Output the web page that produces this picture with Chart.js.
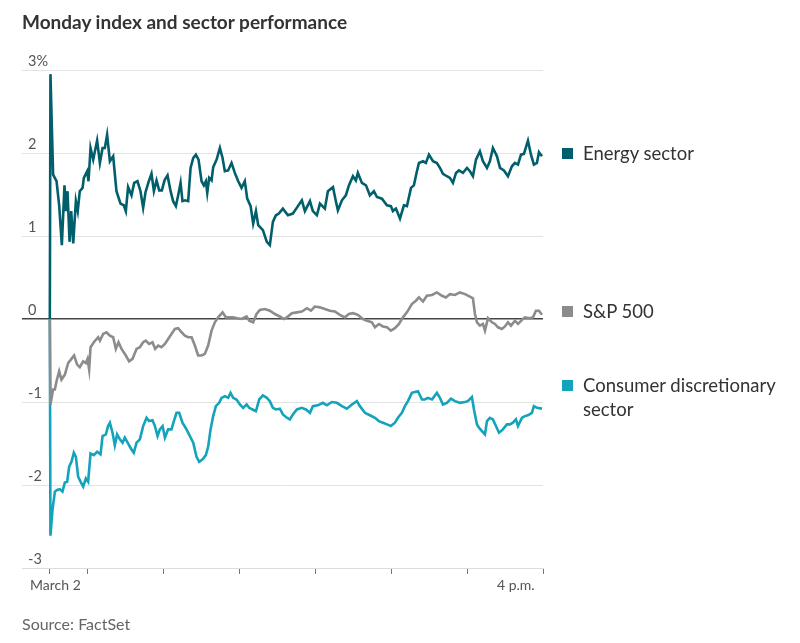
<!DOCTYPE html>
<html>
<head>
<meta charset="utf-8">
<script src="https://cdn.jsdelivr.net/npm/chart.js@4/dist/chart.umd.min.js"></script>
<style>
  html, body { margin: 0; padding: 0; background: #fff; }
  body { width: 800px; height: 643px; position: relative; overflow: hidden; font-family: Lato, "Noto Sans", sans-serif; }
  #wrap { position: absolute; left: 0; top: 0; width: 800px; height: 643px; }
  .title { position: absolute; left: 22px; top: 10px; font-size: 19px; font-weight: bold; color: #333; }
  .source { position: absolute; left: 22px; top: 614px; font-size: 16px; color: #666; }
  .xlab { position: absolute; top: 576px; font-size: 14px; color: #555; }
  .leg { position: absolute; left: 562px; font-size: 18.5px; color: #333; line-height: 24px; }
  .leg .sq { position: absolute; left: 0; top: 7px; width: 11px; height: 11px; }
  .leg .tx { margin-left: 21px; display: block; }
</style>
</head>
<body>
<div id="wrap"><canvas id="chart" width="800" height="643"></canvas></div>
<div class="title">Monday index and sector performance</div>
<div class="xlab" style="left:30px">March 2</div>
<div class="xlab" style="left:497px">4 p.m.</div>
<div class="leg" style="top:141px"><span class="sq" style="background:#005f6b"></span><span class="tx">Energy sector</span></div>
<div class="leg" style="top:299px"><span class="sq" style="background:#8c8c8c"></span><span class="tx">S&amp;P 500</span></div>
<div class="leg" style="top:373px"><span class="sq" style="background:#13a3bb"></span><span class="tx">Consumer discretionary<br>sector</span></div>
<div class="source">Source: FactSet</div>

<script>
// minutes after the 9:30 open, percent change
const energyMin = [0, 0.5, 2.6, 5.3, 7.4, 9.5, 11.6, 12.7, 14, 15.6, 16.9, 18.5, 20.6, 22.1, 23.7, 25.9, 26.9, 29.5, 30.6, 32.2,
  34.3, 37.4, 39.6, 41.7, 43.5, 45.3, 47.5, 50.1, 52.7, 55.9, 58.5, 60.1, 61.9, 64.6, 66.7, 69.3, 71.7, 73.8, 75.7, 78.3,
  80.4, 82.3, 84.4, 86.5, 88.6, 90.7, 93.1, 95.5, 97.5, 99.7, 101.5, 103.4, 104.9, 107, 109.4, 111.3, 113.4, 115.5, 117.6, 120,
  121.8, 123.4, 124.5, 126, 127.9, 129.2, 131.9, 134.5, 136.6, 138.4, 141, 143.7, 146.3, 149, 151.6, 154.2, 156.1, 158.8, 160.8, 163,
  164.8, 166.1, 168.5, 171.6, 174, 176.4, 178.8, 181.1, 184.3, 188.3, 192.2, 196.2, 199.3, 201.7, 205.7, 208, 211.2, 213.6, 217.5, 219.9,
  223.9, 226.2, 227.8, 231, 234.1, 236.5, 239.7, 242, 243.6, 246.8, 250, 253.1, 256.3, 258.7, 262.6, 266.6, 269.7, 271.3, 273.7, 276.9,
  280, 282.4, 285.6, 287.9, 290.3, 291.9, 295.1, 297.4, 299.8, 303, 306.1, 308.5, 310.9, 314, 316.4, 318.8, 321.2, 323.5, 326.7, 329.9,
  332.2, 334.6, 337, 340.1, 342.5, 345.7, 348, 350.4, 353.6, 356, 359.1, 362.3, 365.4, 367.8, 370.2, 372.6, 374.9, 378.1, 380.5, 382.8,
  385.2, 386.8, 389.2];
const energyPct = [0, 2.95, 1.74, 1.66, 1.37, 0.89, 1.61, 1.30, 1.54, 0.93, 1.30, 0.91, 1.42, 1.30, 1.54, 1.58, 1.70, 1.78, 1.66, 2.06,
  1.92, 2.15, 1.88, 2.06, 2.06, 2.22, 1.90, 1.96, 1.54, 1.39, 1.37, 1.30, 1.59, 1.49, 1.64, 1.66, 1.54, 1.34, 1.53, 1.66,
  1.75, 1.54, 1.67, 1.55, 1.55, 1.67, 1.73, 1.54, 1.42, 1.36, 1.49, 1.64, 1.42, 1.43, 1.42, 1.82, 1.94, 1.98, 1.92, 1.66,
  1.61, 1.66, 1.52, 1.70, 1.67, 1.83, 1.92, 2.06, 1.94, 1.78, 1.79, 1.88, 1.76, 1.66, 1.58, 1.66, 1.45, 1.36, 1.15, 1.30,
  1.13, 1.11, 1.07, 0.93, 0.89, 1.17, 1.25, 1.27, 1.33, 1.25, 1.27, 1.36, 1.43, 1.30, 1.42, 1.30, 1.25, 1.39, 1.33, 1.54,
  1.59, 1.42, 1.31, 1.43, 1.49, 1.61, 1.72, 1.67, 1.76, 1.64, 1.61, 1.49, 1.54, 1.47, 1.45, 1.37, 1.36, 1.30, 1.33, 1.21,
  1.37, 1.36, 1.58, 1.61, 1.78, 1.88, 1.90, 1.88, 1.98, 1.90, 1.88, 1.82, 1.75, 1.72, 1.70, 1.64, 1.76, 1.79, 1.76, 1.82,
  1.78, 1.72, 1.92, 2.02, 1.90, 1.82, 1.90, 2.06, 1.96, 1.82, 1.79, 1.72, 1.84, 1.88, 1.86, 1.98, 1.99, 2.15, 1.98, 1.86,
  1.88, 2.01, 1.96];

const spxMin = [0, 0.5, 2.6, 4, 5.3, 7.4, 9.2, 11.9, 14.5, 17.1, 19.2, 21.6, 23.7, 26.4, 28.5, 29.8, 31.1, 32.2, 34.8, 38.2,
  39.6, 42.2, 44.8, 47.5, 50.1, 52.2, 54.3, 56.7, 60.1, 62.7, 65.4, 68.6, 71.2, 73.8, 75.9, 78.5, 81.2, 83.3, 85.7, 88.3,
  91, 93.6, 96.2, 98.9, 101.5, 104.2, 106.8, 109.4, 112.1, 114.7, 117.3, 120, 122.6, 125.2, 127.9, 130.5, 133.1, 136.6, 139.2, 142.4,
  145, 148.2, 151.6, 155.6, 157.7, 160.8, 163.5, 166.1, 170, 174, 178, 181.9, 185.1, 187.5, 191.4, 195.4, 199.3, 203.3, 206.5, 209.6,
  213.6, 217.5, 221.5, 225.4, 229.4, 233.3, 236.5, 239.7, 243.6, 247.6, 250.8, 254.7, 257.1, 260.2, 263.4, 266.6, 269.7, 272.9, 276.1, 279.2,
  282.4, 286.3, 289.5, 291.9, 295.1, 298.2, 302.2, 306.1, 310.1, 313.2, 316.4, 320.4, 324.3, 328.3, 332.2, 334.6, 336.2, 337.8, 340.1, 342.5,
  344.1, 346.5, 349.6, 352, 354.4, 357.5, 359.9, 362.3, 364.7, 367.8, 370.2, 373.4, 375.7, 379.7, 382.1, 384.4, 386.8, 389.2];
const spxPct = [0, -1.03, -0.85, -0.85, -0.75, -0.63, -0.73, -0.67, -0.53, -0.48, -0.44, -0.55, -0.58, -0.51, -0.53, -0.48, -0.61, -0.34, -0.28, -0.22,
  -0.26, -0.18, -0.16, -0.20, -0.22, -0.36, -0.28, -0.36, -0.44, -0.51, -0.48, -0.36, -0.34, -0.28, -0.26, -0.30, -0.28, -0.36, -0.32, -0.34,
  -0.30, -0.24, -0.18, -0.12, -0.11, -0.16, -0.20, -0.22, -0.22, -0.32, -0.44, -0.44, -0.42, -0.32, -0.14, -0.04, 0.02, 0.08, 0.02, 0.02,
  0.02, 0.01, 0, 0.03, -0.02, -0.04, 0.06, 0.11, 0.12, 0.10, 0.06, 0.03, 0, 0.02, 0.07, 0.08, 0.09, 0.13, 0.10, 0.15,
  0.14, 0.12, 0.10, 0.09, 0.05, 0.02, 0.06, 0.07, 0.05, 0, -0.02, -0.04, -0.10, -0.06, -0.09, -0.10, -0.14, -0.11, -0.06, 0.02,
  0.08, 0.18, 0.22, 0.26, 0.21, 0.28, 0.29, 0.32, 0.28, 0.26, 0.30, 0.29, 0.32, 0.30, 0.27, 0.25, 0.06, -0.04, -0.08, -0.06,
  -0.14, 0.01, -0.04, -0.06, -0.10, -0.12, -0.09, -0.04, -0.08, -0.02, -0.06, -0.01, 0.02, 0.01, 0.02, 0.10, 0.10, 0.05];

const consMin = [0, 0.5, 2.1, 4, 5.8, 7.9, 10, 11.9, 13.7, 15.3, 17.1, 19, 20.6, 22.4, 24.3, 26.4, 28.5, 30.3, 32.2, 34.8,
  37.4, 40.1, 41.7, 44.3, 46.1, 47.5, 49.6, 51.4, 53.2, 55.4, 57.5, 59.3, 61.5, 64.1, 66.4, 68.6, 71.2, 73.8, 76.5, 78.5,
  81.2, 83.1, 85.2, 87, 89.2, 91, 93.6, 96.2, 98.1, 100.2, 102.3, 104.9, 108.1, 110.7, 113.4, 116, 118.1, 120.8, 123.4, 125.2,
  127.1, 129.2, 131.3, 133.9, 135.8, 138.4, 141, 142.9, 145, 147.6, 150.3, 152.9, 155.6, 157.7, 160.3, 163, 165.6, 168.5, 171.6, 174,
  176.4, 178.8, 181.9, 184.3, 187.5, 189.8, 192.2, 195.4, 199.3, 202.5, 205.7, 208, 212, 215.9, 219.1, 223, 227, 231, 234.9, 238.9,
  242.8, 245.2, 249.2, 253.1, 257.1, 260.2, 263.4, 266.6, 269.7, 272.9, 275.3, 278.4, 280.8, 283.2, 286.3, 288.7, 291.1, 294.3, 296.6, 299,
  302.2, 306.1, 308.5, 310.9, 314, 317.2, 320.4, 324.3, 328.3, 330.6, 333.8, 335.4, 337.8, 339.4, 341.7, 344.1, 345.7, 348, 350.4, 352.8,
  355.2, 358.3, 361.5, 363.9, 366.2, 368.6, 370.2, 373.4, 375.7, 378.1, 381.2, 382.8, 385.2, 389.2];
const consPct = [0, -2.61, -2.30, -2.08, -2.06, -2.05, -2.08, -1.97, -1.96, -1.78, -1.72, -1.61, -1.66, -1.90, -1.96, -2.02, -1.92, -1.96, -1.62, -1.64,
  -1.60, -1.63, -1.41, -1.39, -1.29, -1.25, -1.37, -1.52, -1.39, -1.45, -1.49, -1.43, -1.49, -1.56, -1.61, -1.49, -1.45, -1.29, -1.19, -1.23,
  -1.22, -1.29, -1.41, -1.33, -1.29, -1.43, -1.33, -1.33, -1.23, -1.13, -1.13, -1.25, -1.33, -1.41, -1.49, -1.66, -1.72, -1.69, -1.64, -1.54,
  -1.33, -1.17, -1.05, -1.01, -0.95, -0.93, -0.95, -0.89, -0.95, -0.97, -1.03, -1.07, -1.03, -1.07, -1.09, -1.11, -0.97, -0.92, -0.95, -0.99,
  -1.07, -1.09, -1.08, -1.15, -1.19, -1.21, -1.15, -1.09, -1.07, -1.09, -1.13, -1.05, -1.04, -1.01, -1.04, -1.00, -1.01, -1.05, -1.08, -1.03,
  -0.99, -1.05, -1.13, -1.16, -1.19, -1.23, -1.25, -1.27, -1.29, -1.25, -1.19, -1.13, -1.05, -0.99, -0.89, -0.88, -0.87, -0.97, -0.97, -0.95,
  -0.97, -0.89, -0.95, -1.03, -1.01, -0.96, -0.99, -1.01, -1.00, -0.99, -0.94, -1.09, -1.27, -1.31, -1.35, -1.39, -1.23, -1.19, -1.21, -1.29,
  -1.37, -1.33, -1.27, -1.27, -1.25, -1.21, -1.29, -1.19, -1.17, -1.16, -1.13, -1.05, -1.07, -1.08];

// hourly ticks: 9:30, 10, 11 ... 4 p.m.
const xTicks = [0, 30, 90, 150, 210, 270, 330, 390];
const yTicks = [-3, -2, -1, 0, 1, 2, 3];

function pts(xs, ys) {
  return xs.map((x, i) => ({ x: x, y: ys[i] }));
}

const ctx = document.getElementById("chart");
new Chart(ctx, {
  type: "line",
  data: {
    datasets: [
      { label: "Energy sector", data: pts(energyMin, energyPct), borderColor: "#005f6b", borderWidth: 2.6, pointRadius: 0, tension: 0 },
      { label: "S&P 500", data: pts(spxMin, spxPct), borderColor: "#8c8c8c", borderWidth: 2.6, pointRadius: 0, tension: 0 },
      { label: "Consumer discretionary sector", data: pts(consMin, consPct), borderColor: "#13a3bb", borderWidth: 2.6, pointRadius: 0, tension: 0 },
    ],
  },
  options: {
    responsive: false,
    animation: false,
    layout: { padding: { left: 10, right: 257, top: 70, bottom: 69 } },
    plugins: { legend: { display: false }, tooltip: { enabled: false } },
    scales: {
      x: {
        type: "linear",
        min: -22,
        max: 390,
        afterBuildTicks: (s) => { s.ticks = xTicks.map((v) => ({ value: v })); },
        ticks: { display: false },
        grid: { drawOnChartArea: false, drawTicks: true, tickLength: 6, color: "#777", lineWidth: 1 },
        border: { display: true, color: "#dcdcdc", width: 1 },
      },
      y: {
        min: -3,
        max: 3,
        afterBuildTicks: (s) => { s.ticks = yTicks.map((v) => ({ value: v })); },
        ticks: {
          mirror: true,
          padding: 6,
          labelOffset: -9,
          color: "#555",
          font: { family: "Lato", size: 14.5 },
          callback: (v) => (v === 3 ? "3%" : String(v)),
        },
        grid: {
          drawTicks: false,
          color: (c) => (c.tick && c.tick.value === 0 ? "#444" : "#e3e3e3"),
          lineWidth: (c) => (c.tick && c.tick.value === 0 ? 1.5 : 1),
        },
        border: { display: false },
      },
    },
  },
});
</script>
</body>
</html>
